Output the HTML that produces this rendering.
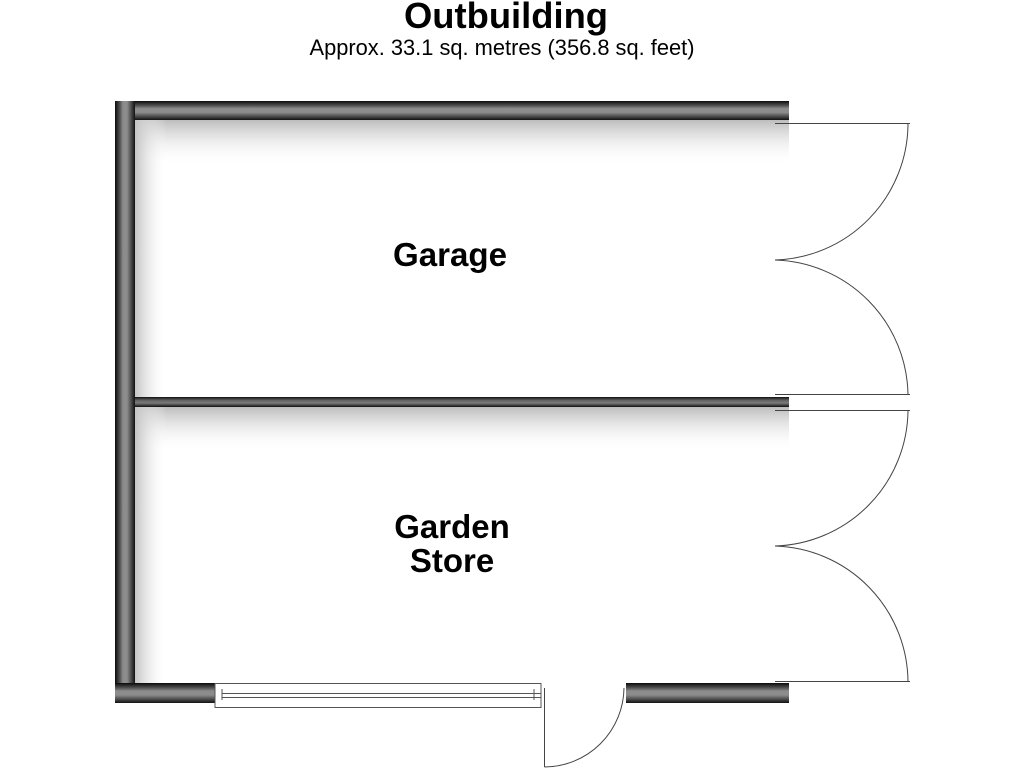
<!DOCTYPE html>
<html><head><meta charset="utf-8"><style>
html,body{margin:0;padding:0;background:#fff;width:1024px;height:768px;overflow:hidden}
svg{display:block}
text{font-family:"Liberation Sans",Arial,sans-serif}
</style></head><body>
<svg width="1024" height="768" viewBox="0 0 1024 768" xmlns="http://www.w3.org/2000/svg">
<defs>
<linearGradient id="gv" x1="0" y1="0" x2="1" y2="0">
<stop offset="0" stop-color="#0a0a0a"/><stop offset="0.25" stop-color="#555"/><stop offset="0.4" stop-color="#8c8c8c"/><stop offset="0.6" stop-color="#8c8c8c"/><stop offset="0.78" stop-color="#555"/><stop offset="1" stop-color="#111"/></linearGradient>
<linearGradient id="gh" x1="0" y1="0" x2="0" y2="1">
<stop offset="0" stop-color="#0a0a0a"/><stop offset="0.25" stop-color="#555"/><stop offset="0.4" stop-color="#8c8c8c"/><stop offset="0.6" stop-color="#8c8c8c"/><stop offset="0.78" stop-color="#555"/><stop offset="1" stop-color="#111"/></linearGradient>
<linearGradient id="gm" x1="0" y1="0" x2="0" y2="1">
<stop offset="0" stop-color="#111"/><stop offset="0.35" stop-color="#666"/><stop offset="0.6" stop-color="#7a7a7a"/><stop offset="1" stop-color="#111"/></linearGradient>
<linearGradient id="shT" x1="0" y1="0" x2="0" y2="1"><stop offset="0" stop-color="#bdbdbd"/><stop offset="1" stop-color="#fff" stop-opacity="0"/></linearGradient>
<linearGradient id="shL" x1="0" y1="0" x2="1" y2="0"><stop offset="0" stop-color="#c4c4c4"/><stop offset="1" stop-color="#fff" stop-opacity="0"/></linearGradient>
</defs>
<rect x="135" y="120" width="654" height="45" fill="url(#shT)"/>
<rect x="135" y="407" width="654" height="45" fill="url(#shT)"/>
<rect x="135" y="120" width="32" height="563" fill="url(#shL)"/>
<rect x="115" y="101" width="674" height="19" fill="url(#gh)"/>
<rect x="115" y="101" width="20" height="602" fill="url(#gv)"/>
<rect x="115" y="683" width="100" height="20" fill="url(#gh)"/>
<rect x="626" y="683" width="163" height="20" fill="url(#gh)"/>
<rect x="135" y="397" width="654" height="10" fill="url(#gm)"/>
<g fill="none" stroke="#555" stroke-width="1">
<rect x="215" y="683.5" width="326" height="24"/>
<line x1="222" y1="693.5" x2="541" y2="693.5"/>
<line x1="222" y1="697.5" x2="541" y2="697.5"/>
<line x1="222" y1="689" x2="222" y2="700"/>
<line x1="534" y1="689" x2="534" y2="700"/>
</g>
<g fill="none" stroke="#444" stroke-width="1">
<line x1="775" y1="123.5" x2="910" y2="123.5"/>
<path d="M908,123.5 A137,137 0 0 1 775,260"/>
<line x1="775" y1="394.5" x2="910" y2="394.5"/>
<path d="M908,394.5 A137,137 0 0 0 775,260"/>
<line x1="775" y1="410.5" x2="910" y2="410.5"/>
<path d="M908,410.5 A137,137 0 0 1 775,546"/>
<line x1="775" y1="681.5" x2="910" y2="681.5"/>
<path d="M908,681.5 A137,137 0 0 0 775,546"/>
<line x1="544.5" y1="688" x2="544.5" y2="767"/>
<path d="M544.5,767 A80,80 0 0 0 624,688"/>
</g>
<text x="506" y="28" font-size="36" font-weight="bold" text-anchor="middle" textLength="204" lengthAdjust="spacingAndGlyphs">Outbuilding</text>
<text x="502" y="55" font-size="22" text-anchor="middle" textLength="385" lengthAdjust="spacingAndGlyphs">Approx. 33.1 sq. metres (356.8 sq. feet)</text>
<text x="450" y="266" font-size="33" font-weight="bold" text-anchor="middle" textLength="114" lengthAdjust="spacingAndGlyphs">Garage</text>
<text x="452" y="538" font-size="33" font-weight="bold" text-anchor="middle">Garden</text>
<text x="452" y="572" font-size="33" font-weight="bold" text-anchor="middle">Store</text>
</svg>
</body></html>
